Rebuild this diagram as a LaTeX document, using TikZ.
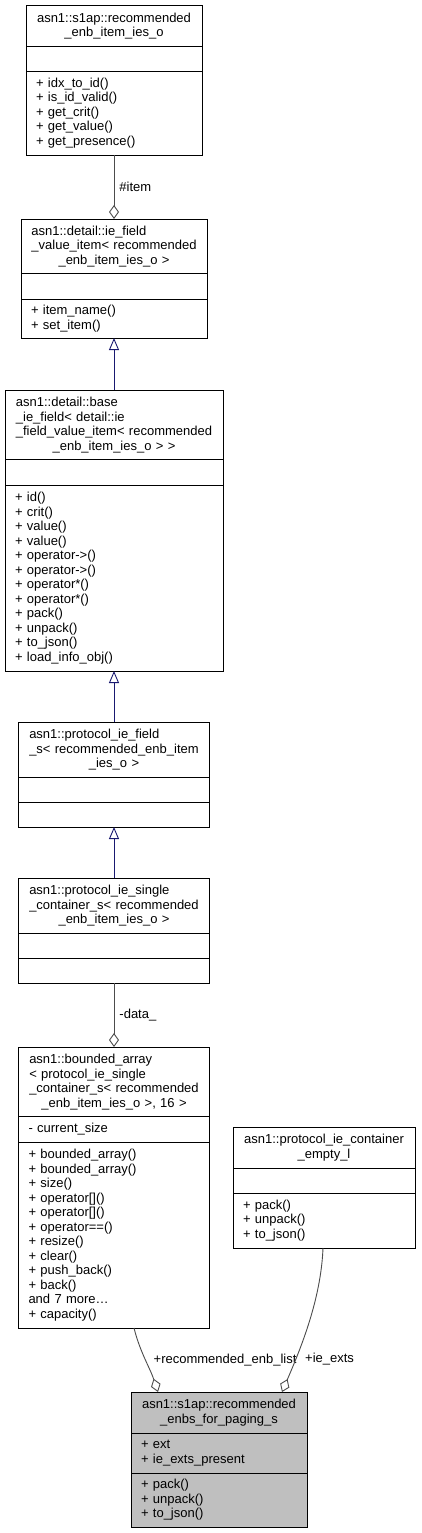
\documentclass[tikz,border=0pt]{standalone}
\usepackage{fontspec}
\setmainfont{Liberation Sans}
\usetikzlibrary{positioning,arrows.meta}
\definecolor{midblue}{HTML}{191970}
\definecolor{selgray}{HTML}{BFBFBF}
\newcommand{\clsname}[2]{\begin{tabular}[b]{@{}l@{}}#1\end{tabular}\\#2}
\begin{document}
\begin{tikzpicture}[x=1pt,y=-1pt,
  every node/.style={font=\fontsize{13}{14.5}\selectfont},
  part/.style={draw=black, line width=0.9pt, fill=white, inner xsep=10pt, inner ysep=0pt, outer sep=0pt},
  hd/.style={part, align=center},
  bd/.style={part, align=left},
  inh/.style={draw=midblue, line width=0.9pt, -{Triangle[open, length=12pt, width=10pt]}},
  agg/.style={draw=black!70, line width=0.9pt, -{Diamond[open, length=14pt, width=10pt]}},
  lbl/.style={inner sep=0pt}]
  \useasboundingbox (0,0) rectangle (421,1533);
  % recommended_enb_item_ies_o
  \node[hd, text width=156pt, minimum height=41pt, anchor=north] (itemt) at (114,5)
    {\clsname{asn1::s1ap::recommended}{\_enb\_item\_ies\_o}};
  \node[bd, text width=156pt, minimum height=25pt, below=0pt of itemt] (itema) {};
  \node[bd, text width=156pt, minimum height=84pt, below=0pt of itema] (itemm)
    {+ idx\_to\_id()\\+ is\_id\_valid()\\+ get\_crit()\\+ get\_value()\\+ get\_presence()};
  % ie_field_value_item
  \node[hd, text width=166pt, minimum height=54pt, anchor=north] (valt) at (114,219)
    {\clsname{asn1::detail::ie\_field\\\_value\_item< recommended}{\_enb\_item\_ies\_o >}};
  \node[bd, text width=166pt, minimum height=26pt, below=0pt of valt] (vala) {};
  \node[bd, text width=166pt, minimum height=39pt, below=0pt of vala] (valm)
    {+ item\_name()\\+ set\_item()};
  % base_ie_field
  \node[hd, text width=198pt, minimum height=69pt, anchor=north] (baset) at (114,390)
    {\clsname{asn1::detail::base\\\_ie\_field< detail::ie\\\_field\_value\_item< recommended}{\_enb\_item\_ies\_o > >}};
  \node[bd, text width=198pt, minimum height=26pt, below=0pt of baset] (basea) {};
  \node[bd, text width=198pt, minimum height=186pt, below=0pt of basea] (basem)
    {+ id()\\+ crit()\\+ value()\\+ value()\\+ operator->()\\+ operator->()\\+ operator*()\\+ operator*()\\+ pack()\\+ unpack()\\+ to\_json()\\+ load\_info\_obj()};
  % protocol_ie_field_s
  \node[hd, text width=171pt, minimum height=55pt, anchor=north] (fldt) at (114,722)
    {\clsname{asn1::protocol\_ie\_field\\\_s< recommended\_enb\_item}{\_ies\_o >}};
  \node[bd, text width=171pt, minimum height=25pt, below=0pt of fldt] (flda) {};
  \node[bd, text width=171pt, minimum height=25pt, below=0pt of flda] (fldm) {};
  % protocol_ie_single_container_s
  \node[hd, text width=171pt, minimum height=55pt, anchor=north] (sglt) at (114,878)
    {\clsname{asn1::protocol\_ie\_single\\\_container\_s< recommended}{\_enb\_item\_ies\_o >}};
  \node[bd, text width=171pt, minimum height=25pt, below=0pt of sglt] (sgla) {};
  \node[bd, text width=171pt, minimum height=25pt, below=0pt of sgla] (sglm) {};
  % bounded_array
  \node[hd, text width=171pt, minimum height=69pt, anchor=north] (arrt) at (114,1047)
    {\clsname{asn1::bounded\_array\\< protocol\_ie\_single\\\_container\_s< recommended}{\_enb\_item\_ies\_o >, 16 >}};
  \node[bd, text width=171pt, minimum height=26pt, below=0pt of arrt] (arra) {- current\_size};
  \node[bd, text width=171pt, minimum height=186pt, below=0pt of arra] (arrm)
    {+ bounded\_array()\\+ bounded\_array()\\+ size()\\+ operator[]()\\+ operator[]()\\+ operator==()\\+ resize()\\+ clear()\\+ push\_back()\\+ back()\\and 7 more…\\+ capacity()};
  % protocol_ie_container_empty_l
  \node[hd, text width=162pt, minimum height=41pt, anchor=north] (empt) at (324,1127)
    {\clsname{asn1::protocol\_ie\_container}{\_empty\_l}};
  \node[bd, text width=162pt, minimum height=25pt, below=0pt of empt] (empa) {};
  \node[bd, text width=162pt, minimum height=55pt, below=0pt of empa] (empm)
    {+ pack()\\+ unpack()\\+ to\_json()};
  % recommended_enbs_for_paging_s
  \node[hd, fill=selgray, text width=156pt, minimum height=41pt, anchor=north] (pagt) at (219,1392)
    {\clsname{asn1::s1ap::recommended}{\_enbs\_for\_paging\_s}};
  \node[bd, fill=selgray, text width=156pt, minimum height=40pt, below=0pt of pagt] (paga)
    {+ ext\\+ ie\_exts\_present};
  \node[bd, fill=selgray, text width=156pt, minimum height=54pt, below=0pt of paga] (pagm)
    {+ pack()\\+ unpack()\\+ to\_json()};
  % relations
  \draw[agg] (itemm.south) -- node[lbl, right, xshift=5pt] {\#item} (valt.north);
  \draw[inh] (baset.north) -- (valm.south);
  \draw[inh] (fldt.north) -- (basem.south);
  \draw[inh] (sglt.north) -- (fldm.south);
  \draw[agg] (sglm.south) -- node[lbl, right, xshift=5pt] {-data\_} (arrt.north);
  \draw[agg] ([xshift=20pt]arrm.south) .. controls +(6,24) and +(-8,-24) ..
    node[lbl, pos=0.5, right, xshift=8pt] {+recommended\_enb\_list} ([xshift=-61pt]pagt.north);
  \draw[agg] ([xshift=-1pt]empm.south) .. controls +(-2,52) and +(18,-42) ..
    node[lbl, pos=0.75, right, xshift=9pt] {+ie\_exts} ([xshift=63pt]pagt.north);
\end{tikzpicture}
\end{document}
